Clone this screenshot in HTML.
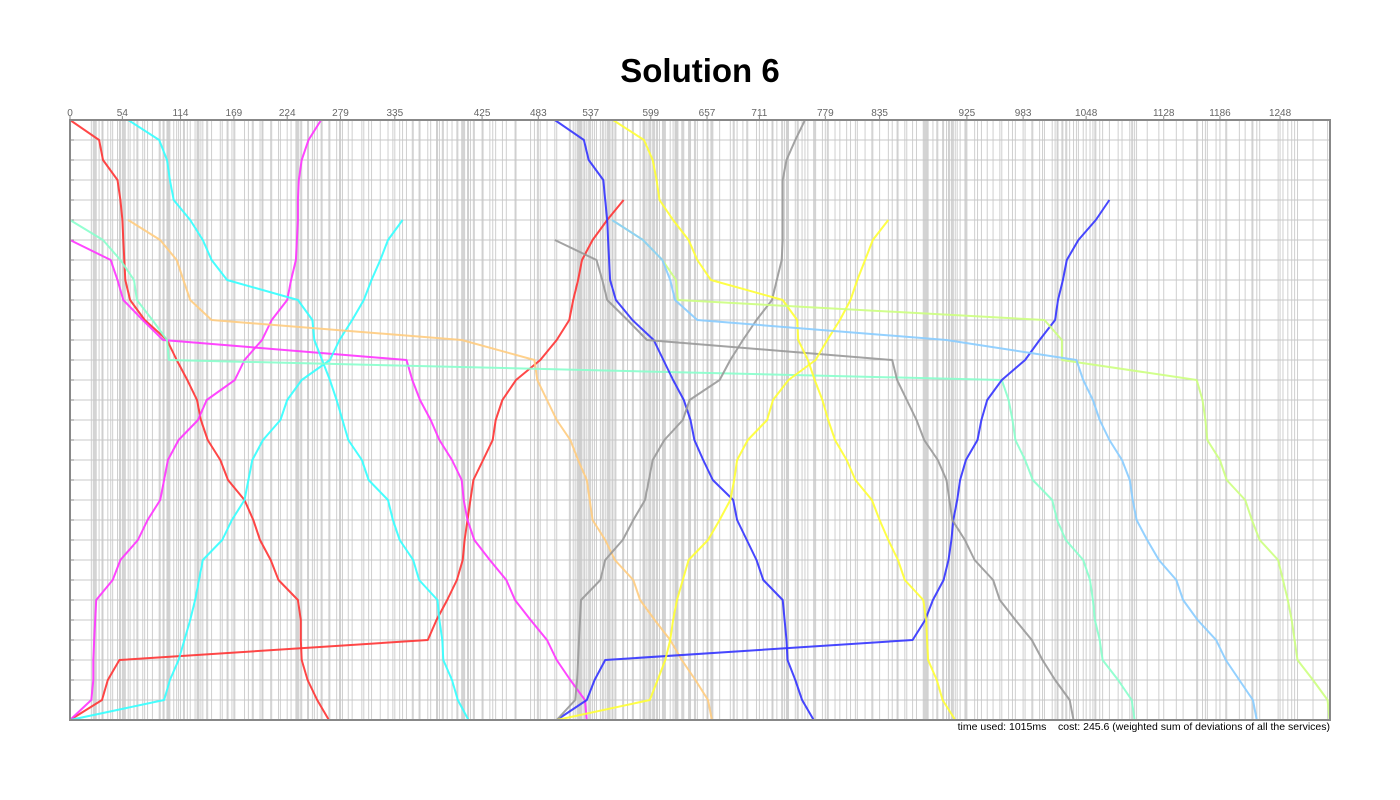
<!DOCTYPE html>
<html><head><meta charset="utf-8"><style>
html,body{margin:0;padding:0;background:#fff;}
body{width:1400px;height:800px;overflow:hidden;font-family:"Liberation Sans",sans-serif;}
svg{display:block}
</style></head><body>
<svg id="chart" width="1400" height="800" xmlns="http://www.w3.org/2000/svg">
<text x="700" y="82" text-anchor="middle" font-family="Liberation Sans, sans-serif" font-weight="bold" font-size="33">Solution 6</text>
<g id="vgrid"></g>
<g id="hgrid"></g>
<g id="series"></g>
<g id="axes"></g>
<text x="1330" y="730" text-anchor="end" font-family="Liberation Sans, sans-serif" font-size="10.5" fill="#000">time used: 1015ms &#160;&#160; cost: 245.6 (weighted sum of deviations of all the services)</text>
</svg>
<script>
const tickLabels = [0,54,114,169,224,279,335,425,483,537,599,657,711,779,835,925,983,1048,1128,1186,1248];
const rowCount = 30;
const seriesNames = ['red-a','red-b','magenta-a','magenta-b','cyan-a','cyan-b','orange','aqua','blue-a','blue-b','gray-a','gray-b','yellow-a','yellow-b','chartreuse','skyblue'];
const seriesColors = ['#ff3333','#ff3333','#ff33ff','#ff33ff','#33ffff','#33ffff','#ffcc80','#88ffcc','#3333ff','#3333ff','#999999','#999999','#ffff33','#ffff33','#ccff80','#88ccff'];
const seriesStartRows = [0,4,6,0,0,5,5,5,0,4,6,0,0,5,5,5];
const redA = [0,30,34,49,52,54,55,56,57,62,77,100,110,121,131,135,142,155,163,180,189,196,207,215,235,238,238,239,245,255,267];
const redB = [571,554,539,528,524,519,515,502,485,460,446,439,436,426,416,413,410,407,405,399,389,378,369,51,39,33,0];
const magentaA = [0,42,49,55,75,96,347,353,361,372,381,394,404,406,410,417,433,450,459,475,492,502,516,531,533];
const magentaB = [259,246,239,236,235,235,234,233,228,224,208,198,180,170,141,132,112,101,97,93,80,70,52,44,27,26,25,24,24,22,0];
const cyanA = [60,92,100,103,107,124,137,146,162,235,250,252,260,268,275,281,287,301,308,328,333,340,354,360,379,381,384,385,394,400,411];
const cyanB = [343,328,320,311,303,291,278,268,239,224,217,199,188,184,180,167,157,137,133,129,124,118,112,103,97,0];
const orange = [60,93,110,117,124,146,404,479,482,492,502,516,524,533,536,539,552,562,581,588,603,619,631,645,658,662];
const aqua = [0,34,52,66,69,85,100,102,961,968,972,975,985,993,1013,1018,1027,1045,1052,1055,1057,1062,1065,1081,1095,1098];
const blueA = [500,530,535,550,552,554,555,556,557,563,580,602,612,622,633,640,644,653,663,684,688,698,708,715,735,737,739,740,748,755,767];
const blueB = [1072,1058,1040,1028,1024,1019,1016,1000,985,961,946,940,936,924,918,915,911,909,906,901,890,882,869,552,541,533,502];
const grayA = [500,543,549,554,575,595,848,853,863,873,881,895,904,907,910,923,933,952,959,975,992,1003,1016,1031,1035];
const grayB = [758,748,739,735,735,735,735,734,729,724,708,694,681,670,639,632,613,601,597,593,581,570,552,547,527,526,525,524,523,521,502];
const yellowA = [560,592,601,605,608,622,638,647,661,735,750,751,761,768,776,782,789,801,810,827,835,844,854,861,880,883,884,885,894,900,913];
const yellowB = [844,828,820,812,805,794,781,769,741,725,719,699,688,685,681,670,658,638,632,626,622,619,614,606,598,502];
const chartreuse = [559,591,611,625,627,1005,1023,1023,1162,1168,1171,1173,1186,1193,1212,1219,1227,1246,1251,1256,1260,1263,1266,1282,1297,1299];
const skyblue = [559,591,611,619,624,647,904,1038,1045,1055,1062,1072,1085,1093,1096,1100,1111,1123,1141,1148,1163,1182,1192,1206,1220,1224];
const seriesData = [redA,redB,magentaA,magentaB,cyanA,cyanB,orange,aqua,blueA,blueB,grayA,grayB,yellowA,yellowB,chartreuse,skyblue];

const NS='http://www.w3.org/2000/svg';
const L=70,R=1330,T=120,B=720,TMAX=1299.5;
function xs(t){return L+t*(R-L)/TMAX;}
function ys(r){return T+r*(B-T)/rowCount;}
function mk(tag,attrs,parent){const e=document.createElementNS(NS,tag);for(const k in attrs)e.setAttribute(k,attrs[k]);parent.appendChild(e);return e;}

const vg=document.getElementById('vgrid');
const seen=new Set();
seriesData.forEach(a=>a.forEach(t=>seen.add(t)));
tickLabels.forEach(t=>seen.add(t));
seen.forEach(t=>{
  const ln=mk('line',{x1:xs(t),x2:xs(t),y1:T,y2:B,stroke:'#cfcfcf','stroke-width':1},vg);
  
  
});
const hg=document.getElementById('hgrid');
for(let r=1;r<rowCount;r++){
  const ln=mk('line',{x1:L,x2:R,y1:ys(r),y2:ys(r),stroke:'#c8c8c8','stroke-width':1},hg);
  
  
  const tk=mk('line',{x1:L,x2:L+4,y1:ys(r),y2:ys(r),stroke:'#888','stroke-width':1},hg);
  
  
}
const sg=document.getElementById('series');
seriesData.forEach((arr,i)=>{
  const pts=arr.map((t,j)=>xs(t).toFixed(1)+','+ys(seriesStartRows[i]+j).toFixed(1)).join(' ');
  const pl=mk('polyline',{points:pts,fill:'none',stroke:seriesColors[i],'stroke-width':2,'stroke-linejoin':'round','stroke-opacity':0.9},sg);
  
  
});
const ax=document.getElementById('axes');
const frame=mk('rect',{x:L,y:T,width:R-L,height:B-T,fill:'none',stroke:'#888','stroke-width':2},ax);


tickLabels.forEach(t=>{
  const tk=mk('line',{x1:xs(t),x2:xs(t),y1:T-4,y2:T+1,stroke:'#888','stroke-width':1},ax);
  
  
  const tx=mk('text',{x:xs(t),y:T-4,'text-anchor':'middle','font-size':10,fill:'#666','font-family':'Liberation Sans, sans-serif'},ax);
  tx.textContent=t;
  
  
});
</script>
</body></html>
